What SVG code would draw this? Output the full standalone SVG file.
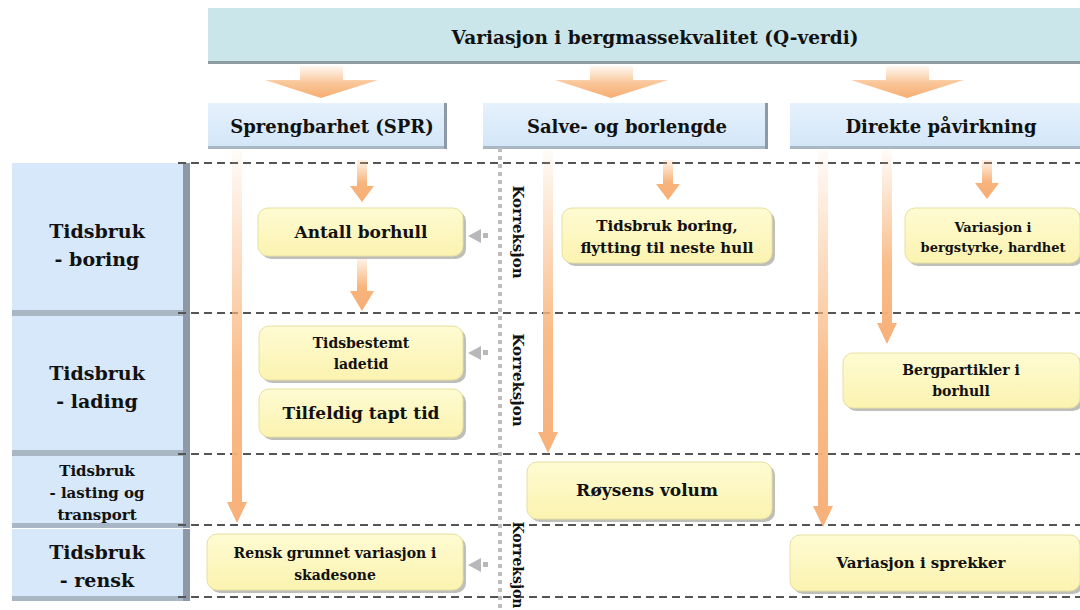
<svg xmlns="http://www.w3.org/2000/svg" width="1080" height="610" viewBox="0 0 1080 610" font-family="'DejaVu Serif', serif">
<defs>
<style>
.t{font-family:"DejaVu Serif","Liberation Serif",serif;font-weight:bold;fill:#111;text-anchor:middle}
.dash{stroke:#555;stroke-width:2;stroke-dasharray:8 5;fill:none}
.ybox{fill:url(#yg);stroke:#e6e0a0;stroke-width:1}
.ysh{fill:#8a8a80;opacity:0.55}
.hbox{fill:url(#hg)}
.rbox{fill:#d6e8f9}
.bev{fill:#8d99a6}
.bevb{fill:#a9b6c3}
.garrow{fill:#b8b8b8}
</style>
<linearGradient id="yg" x1="0" y1="0" x2="0" y2="1"><stop offset="0" stop-color="#fefbd2"/><stop offset="1" stop-color="#fbf3b0"/></linearGradient>
<linearGradient id="hg" x1="0" y1="0" x2="0" y2="1"><stop offset="0" stop-color="#e6f1fc"/><stop offset="1" stop-color="#d3e6f8"/></linearGradient>
<linearGradient id="og" x1="0" y1="0" x2="0" y2="1"><stop offset="0" stop-color="#f9b57b" stop-opacity="0.05"/><stop offset="0.6" stop-color="#f9b57b" stop-opacity="0.9"/><stop offset="1" stop-color="#f7b07a"/></linearGradient>
<linearGradient id="ogs" x1="0" y1="0" x2="0" y2="1"><stop offset="0" stop-color="#f9b57b" stop-opacity="0.15"/><stop offset="0.55" stop-color="#f8b47c"/><stop offset="1" stop-color="#f6ad75"/></linearGradient>
<linearGradient id="cg" x1="0" y1="0" x2="0" y2="1"><stop offset="0" stop-color="#fbd4b0" stop-opacity="0.2"/><stop offset="0.5" stop-color="#f9c89c"/><stop offset="1" stop-color="#f6ad70"/></linearGradient>
</defs>
<rect width="1080" height="610" fill="#ffffff"/>

<g id="banner">
<rect x="208" y="8" width="872" height="56" fill="#8e9ea0"/>
<rect x="208" y="8" width="872" height="53" fill="#cbe6ea"/>
<text class="t" x="655" y="44" font-size="18.5">Variasjon i bergmassekvalitet (Q-verdi)</text>
</g>

<g id="chevrons">
<path d="M300 66 H343 V80 H378 L321 98 L265 80 H300 Z" fill="url(#cg)"/>
<path d="M590 66 H633 V80 H668 L611 98 L555 80 H590 Z" fill="url(#cg)"/>
<path d="M886 66 H929 V80 H964 L907 98 L851 80 H886 Z" fill="url(#cg)"/>
</g>

<g id="hdr-spr">
<rect x="208" y="103" width="239" height="46" class="bevb"/>
<rect x="444" y="103" width="3" height="46" class="bev"/>
<rect x="208" y="103" width="236" height="43" class="hbox"/>
<text class="t" x="332" y="133" font-size="18">Sprengbarhet (SPR)</text>
</g>
<g id="hdr-salve">
<rect x="483" y="103" width="285" height="46" class="bevb"/>
<rect x="765" y="103" width="3" height="46" class="bev"/>
<rect x="483" y="103" width="282" height="43" class="hbox"/>
<text class="t" x="627" y="133" font-size="18">Salve- og borlengde</text>
</g>
<g id="hdr-direkte">
<rect x="790" y="103" width="290" height="46" class="bevb"/>
<rect x="790" y="103" width="290" height="43" class="hbox"/>
<text class="t" x="941" y="133" font-size="18">Direkte påvirkning</text>
</g>

<g id="row-boring">
<rect x="12" y="163" width="178" height="153" class="bevb"/>
<rect x="183" y="163" width="7" height="153" class="bev"/>
<rect x="12" y="163" width="171" height="147" class="rbox"/>
<text class="t" x="97" y="238" font-size="19">Tidsbruk</text>
<text class="t" x="97" y="266" font-size="19">- boring</text>
</g>
<g id="row-lading">
<rect x="12" y="316" width="178" height="140" class="bevb"/>
<rect x="183" y="316" width="7" height="140" class="bev"/>
<rect x="12" y="316" width="171" height="134" class="rbox"/>
<text class="t" x="97" y="380" font-size="19">Tidsbruk</text>
<text class="t" x="97" y="408" font-size="19">- lading</text>
</g>
<g id="row-lasting">
<rect x="12" y="456" width="178" height="72" class="bevb"/>
<rect x="183" y="456" width="7" height="72" class="bev"/>
<rect x="12" y="456" width="171" height="67" class="rbox"/>
<text class="t" x="97" y="476" font-size="15">Tidsbruk</text>
<text class="t" x="97" y="498" font-size="15">- lasting og</text>
<text class="t" x="97" y="520" font-size="15">transport</text>
</g>
<g id="row-rensk">
<rect x="12" y="529" width="178" height="72" class="bevb"/>
<rect x="183" y="529" width="7" height="72" class="bev"/>
<rect x="12" y="529" width="171" height="67" class="rbox"/>
<text class="t" x="97" y="559" font-size="19">Tidsbruk</text>
<text class="t" x="97" y="587" font-size="19">- rensk</text>
</g>

<g id="grid">
<line x1="178" y1="163" x2="1080" y2="163" class="dash"/>
<line x1="178" y1="313" x2="1080" y2="313" class="dash"/>
<line x1="178" y1="454" x2="1080" y2="454" class="dash"/>
<line x1="178" y1="525" x2="1080" y2="525" class="dash"/>
<line x1="178" y1="597" x2="1080" y2="597" class="dash"/>
<line x1="500" y1="148" x2="500" y2="610" stroke="#bdbdbd" stroke-width="4" stroke-dasharray="4 4"/>
</g>

<g id="connectors">
<path d="M232 150 H242 V502 H247 L237 523 L227 502 H232 Z" fill="url(#og)"/>
<path d="M543 150 H553 V432 H558 L548 453 L538 432 H543 Z" fill="url(#og)"/>
<path d="M818 150 H828 V506 H833 L823 527 L813 506 H818 Z" fill="url(#og)"/>
<path d="M882 150 H892 V323 H897 L887 344 L877 323 H882 Z" fill="url(#og)"/>
<path d="M357 160 H367 V186 H374 L362 202 L350 186 H357 Z" fill="url(#ogs)"/>
<path d="M663 160 H673 V184 H680 L668 200 L656 184 H663 Z" fill="url(#ogs)"/>
<path d="M982 160 H992 V183 H999 L987 199 L975 183 H982 Z" fill="url(#ogs)"/>
<path d="M357 258 H367 V291 H374 L362 311 L350 291 H357 Z" fill="url(#ogs)"/>
<path d="M468 236 L481 229 V243 Z" class="garrow"/>
<rect x="483" y="233" width="5" height="5" class="garrow"/>
<path d="M468 353 L481 346 V360 Z" class="garrow"/>
<rect x="483" y="350" width="5" height="5" class="garrow"/>
<path d="M468 565 L481 558 V572 Z" class="garrow"/>
<rect x="483" y="562" width="5" height="5" class="garrow"/>
</g>

<g id="korreksjon">
<text class="t" font-size="15" transform="translate(513 232) rotate(90)">Korreksjon</text>
<text class="t" font-size="15" transform="translate(513 380) rotate(90)">Korreksjon</text>
<text class="t" font-size="14" transform="translate(513 565) rotate(90)">Korreksjon</text>
</g>

<g id="n-antall">
<rect x="261" y="211" width="205" height="48" rx="10" class="ysh"/>
<rect x="258" y="208" width="205" height="48" rx="10" class="ybox"/>
<text class="t" x="361" y="238" font-size="17">Antall borhull</text>
</g>
<g id="n-tidsbruk-boring">
<rect x="565" y="211" width="210" height="55" rx="10" class="ysh"/>
<rect x="562" y="208" width="210" height="55" rx="10" class="ybox"/>
<text class="t" x="667" y="231" font-size="15">Tidsbruk boring,</text>
<text class="t" x="667" y="253" font-size="15">flytting til neste hull</text>
</g>
<g id="n-bergstyrke">
<rect x="908" y="211" width="175" height="55" rx="10" class="ysh"/>
<rect x="905" y="208" width="175" height="55" rx="10" class="ybox"/>
<text class="t" x="993" y="232" font-size="13">Variasjon i</text>
<text class="t" x="993" y="252" font-size="13">bergstyrke, hardhet</text>
</g>
<g id="n-ladetid">
<rect x="262" y="329" width="204" height="54" rx="10" class="ysh"/>
<rect x="259" y="326" width="204" height="54" rx="10" class="ybox"/>
<text class="t" x="361" y="348" font-size="14">Tidsbestemt</text>
<text class="t" x="361" y="369" font-size="14">ladetid</text>
</g>
<g id="n-tapt">
<rect x="262" y="392" width="204" height="48" rx="10" class="ysh"/>
<rect x="259" y="389" width="204" height="48" rx="10" class="ybox"/>
<text class="t" x="361" y="419" font-size="17">Tilfeldig tapt tid</text>
</g>
<g id="n-bergpartikler">
<rect x="846" y="356" width="237" height="55" rx="10" class="ysh"/>
<rect x="843" y="353" width="237" height="55" rx="10" class="ybox"/>
<text class="t" x="961" y="375" font-size="14">Bergpartikler i</text>
<text class="t" x="961" y="396" font-size="14">borhull</text>
</g>
<g id="n-roysens">
<rect x="530" y="465" width="245" height="57" rx="10" class="ysh"/>
<rect x="527" y="462" width="245" height="57" rx="10" class="ybox"/>
<text class="t" x="647" y="496" font-size="17">Røysens volum</text>
</g>
<g id="n-rensk">
<rect x="210" y="537" width="256" height="56" rx="10" class="ysh"/>
<rect x="207" y="534" width="256" height="56" rx="10" class="ybox"/>
<text class="t" x="335" y="558" font-size="14">Rensk grunnet variasjon i</text>
<text class="t" x="335" y="580" font-size="14">skadesone</text>
</g>
<g id="n-sprekker">
<rect x="793" y="538" width="290" height="56" rx="10" class="ysh"/>
<rect x="790" y="535" width="290" height="56" rx="10" class="ybox"/>
<text class="t" x="921" y="568" font-size="15">Variasjon i sprekker</text>
</g>
</svg>
